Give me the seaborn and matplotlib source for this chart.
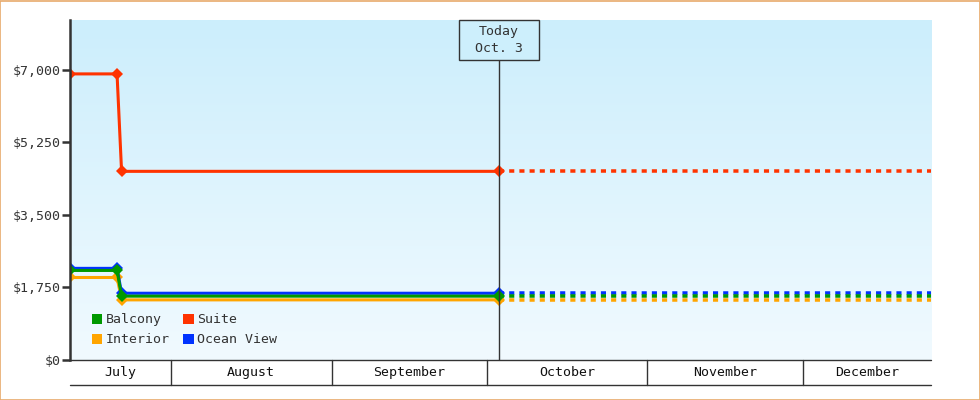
import numpy as np
import pandas as pd
import matplotlib
matplotlib.use("Agg")
import matplotlib.pyplot as plt
import matplotlib.dates as mdates
from matplotlib.patches import Rectangle, Patch
import seaborn as sns

# ---------------- data ----------------
cabins = ["Interior", "Ocean View", "Balcony", "Suite"]          # draw order
legend_order = ["Balcony", "Interior", "Suite", "Ocean View"]     # column-major for 2 cols
dates = ["2024-07-12 12:00", "2024-07-21 14:00", "2024-07-22 11:00", "2024-10-03 06:00"]
today = "2024-10-03 06:00"
range_end = "2024-12-25 18:00"
interior = [1990, 1990, 1450, 1450]
ocean_view = [2210, 2210, 1610, 1610]
balcony = [2160, 2160, 1540, 1540]
suite = [6900, 6900, 4550, 4550]
y_ticks = [0, 1750, 3500, 5250, 7000]
y_tick_labels = ["$0", "$1,750", "$3,500", "$5,250", "$7,000"]
month_starts = ["2024-07-01", "2024-08-01", "2024-09-01", "2024-10-01",
                "2024-11-01", "2024-12-01", "2025-01-01"]
month_labels = ["July", "August", "September", "October", "November", "December"]
today_label = "Today\nOct. 3"

colors = {"Suite": "#ff3300", "Balcony": "#009900",
          "Interior": "#ffa500", "Ocean View": "#0033ff"}

series = {"Interior": interior, "Ocean View": ocean_view,
          "Balcony": balcony, "Suite": suite}
rows = []
for c in cabins:
    for d, v in zip(dates, series[c]):
        rows.append({"date": pd.Timestamp(d), "price": v, "cabin": c})
df = pd.DataFrame(rows)

rows2 = []
for c in cabins:
    last = series[c][-1]
    rows2.append({"date": pd.Timestamp(today), "price": last, "cabin": c})
    rows2.append({"date": pd.Timestamp(range_end), "price": last, "cabin": c})
df_proj = pd.DataFrame(rows2)

# ---------------- figure ----------------
sns.set_style("white")
plt.rcParams["font.family"] = ["DejaVu Sans Mono", "DejaVu Sans"]
TXT = "#333333"
FS = 9.5

fig = plt.figure(figsize=(9.8, 4.0), dpi=100)
fig.patch.set_facecolor("white")
fig.patches.append(Rectangle((0.0005, 0.001), 0.999, 0.9975, transform=fig.transFigure,
                             fill=False, edgecolor="#e8aa6c", lw=1.2, zorder=10))
ax = fig.add_axes([70 / 980, 40 / 400, 861 / 980, 340 / 400])

# gradient background
top = np.array([204, 238, 252]) / 255
bot = np.array([241, 250, 255]) / 255
t = np.linspace(0, 1, 256)[:, None]
grad = (top[None, :] * (1 - t) + bot[None, :] * t)[:, None, :]
ax.imshow(grad, extent=[0, 1, 0, 1], transform=ax.transAxes, aspect="auto",
          zorder=0, interpolation="bilinear")

lw = 2.2
sns.lineplot(data=df_proj, x="date", y="price", hue="cabin", hue_order=cabins,
             palette=colors, estimator=None, sort=True, legend=False, ax=ax,
             lw=lw * 1.15, linestyle=(0, (1.45, 1.45)), zorder=3)
sns.lineplot(data=df, x="date", y="price", hue="cabin", hue_order=cabins,
             palette=colors, estimator=None, sort=True, legend=False, ax=ax,
             lw=lw, marker="D", markersize=6.5, markeredgewidth=0, zorder=4)

x0 = mdates.date2num(pd.Timestamp(dates[0]))
x1 = mdates.date2num(pd.Timestamp(range_end))
ax.set_xlim(x0, x1)
ax.set_ylim(0, 8200)
ax.set_xlabel("")
ax.set_ylabel("")
ax.set_xticks([])
ax.set_yticks(y_ticks)
ax.set_yticklabels(y_tick_labels, fontsize=FS, color=TXT)
ax.tick_params(axis="y", direction="out", length=6, width=1.8, color=TXT, pad=1, left=True)
for s in ["top", "right", "bottom"]:
    ax.spines[s].set_visible(False)
ax.spines["left"].set_color(TXT)
ax.spines["left"].set_linewidth(1.8)
ax.spines["left"].set_zorder(6)

# today marker
tnum = mdates.date2num(pd.Timestamp(today))
tfrac = (tnum - x0) / (x1 - x0)
box_h = 40 / 340
box_w = 80 / 861
ax.axvline(tnum, ymin=0, ymax=1 - box_h, color=TXT, lw=1, zorder=5)
ax.add_patch(Rectangle((tfrac - box_w / 2, 1 - box_h), box_w, box_h, transform=ax.transAxes,
                       facecolor="#cdeffc", edgecolor=TXT, lw=1, zorder=6, clip_on=False))
ax.text(tfrac, 1 - box_h / 2, today_label, transform=ax.transAxes, ha="center", va="center",
        fontsize=FS, color=TXT, linespacing=1.35, zorder=7)

# month table under axis
band = 25 / 340
ax.plot([0, 1], [0, 0], transform=ax.transAxes, color=TXT, lw=1, clip_on=False, zorder=6)
ax.plot([0, 1], [-band, -band], transform=ax.transAxes, color=TXT, lw=1, clip_on=False, zorder=6)
ms = [mdates.date2num(pd.Timestamp(m)) for m in month_starts]
for i, lab in enumerate(month_labels):
    a = max(ms[i], x0)
    b = min(ms[i + 1], x1)
    fa = (a - x0) / (x1 - x0)
    fb = (b - x0) / (x1 - x0)
    if 0 < fa < 1:
        ax.plot([fa, fa], [0, -band], transform=ax.transAxes, color=TXT, lw=1,
                clip_on=False, zorder=6)
    ax.text((fa + fb) / 2, -band / 2, lab, transform=ax.transAxes, ha="center",
            va="center", fontsize=FS, color="#111111")

# legend
handles = [Patch(facecolor=colors[c], edgecolor="none", label=c) for c in legend_order]
leg = ax.legend(handles=handles, ncol=2, loc="lower left", bbox_to_anchor=(0.025, 0.04),
                frameon=False, fontsize=FS, handlelength=0.8, handleheight=0.8,
                handletextpad=0.25, columnspacing=1.05, labelspacing=0.55,
                borderpad=0.0, borderaxespad=0.0)
for txt in leg.get_texts():
    txt.set_color(TXT)

fig.savefig("out.png", dpi=100)
